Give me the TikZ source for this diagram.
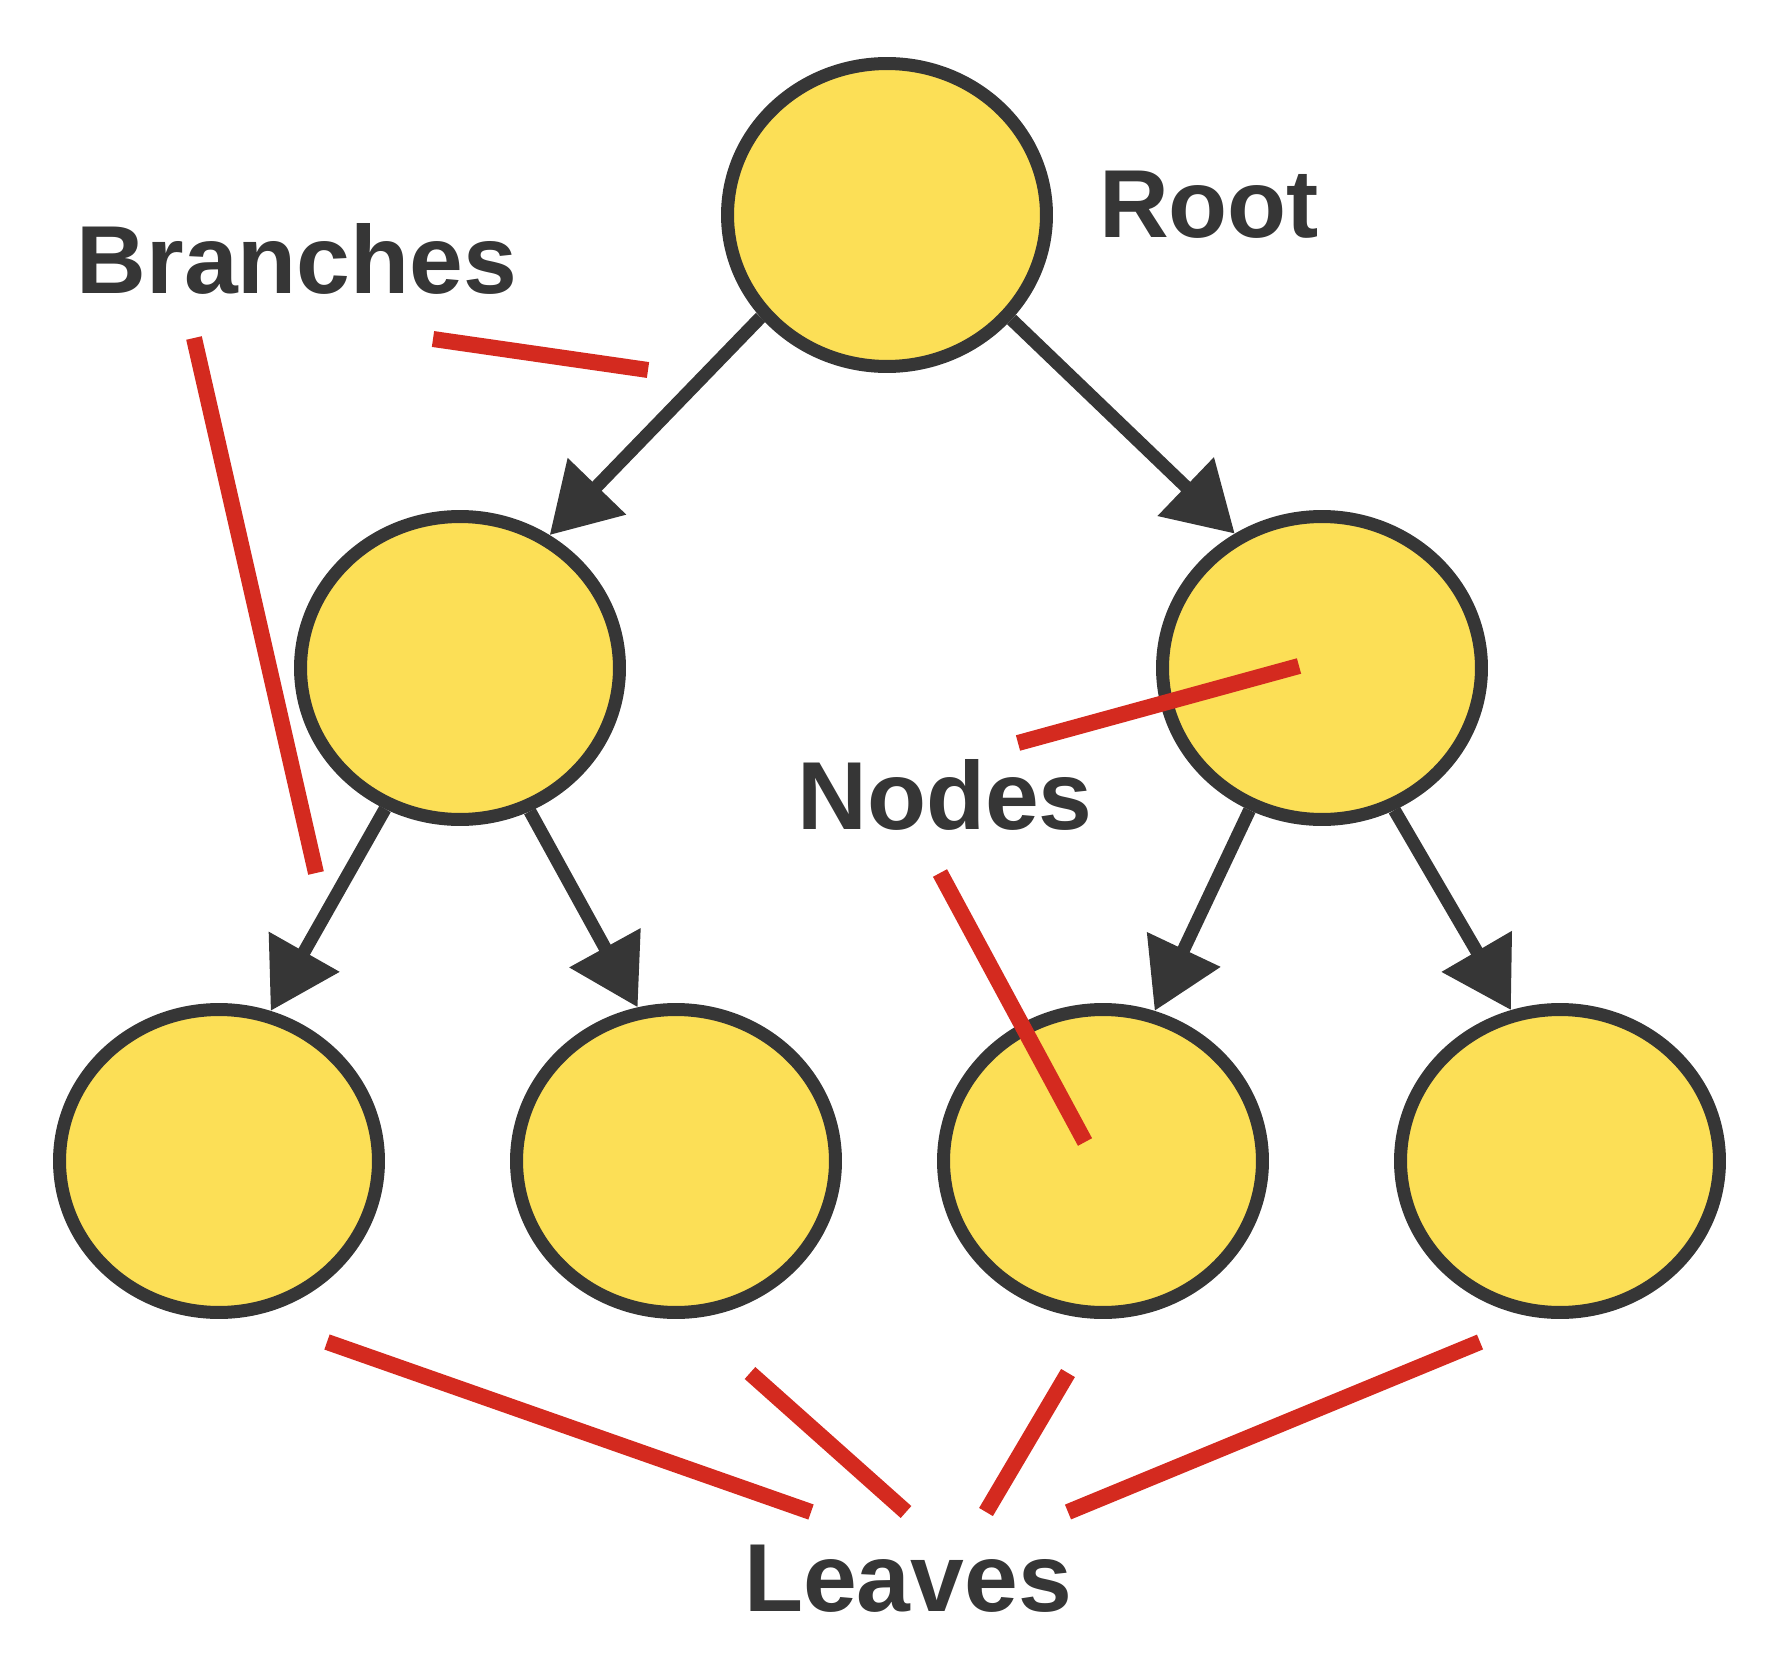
\documentclass[tikz,border=0pt]{standalone}
\usepackage{fontspec}
\setmainfont{Liberation Sans}
\usepackage{xcolor}
\usepackage{tikz}
\usetikzlibrary{arrows.meta,shapes.geometric,backgrounds}
\definecolor{ink}{HTML}{363636}
\definecolor{sun}{HTML}{FCDF56}
\definecolor{mark}{HTML}{D42A1F}

\begin{document}
\begin{tikzpicture}[
  x=0.02cm, y=-0.02cm,
  treenode/.style={ellipse, draw=ink, fill=sun, line width=0.26cm,
                   minimum width=6.38cm, minimum height=6.06cm, inner sep=0pt},
  tag/.style={text=ink, font=\fontsize{55}{62}\selectfont\bfseries,
              inner sep=0pt, anchor=base},
  arrow/.style={-{Triangle[length=1.36cm, width=1.56cm]}, line width=0.26cm, draw=ink},
  pointer/.style={draw=mark, line width=0.32cm}
]
\useasboundingbox (0,0) rectangle (1782,1676);

\node[treenode] (root) at (887,215) {};
\node[treenode] (left) at (460,668) {};
\node[treenode] (right) at (1322,668) {};
\node[treenode] (leafA) at (219,1161) {};
\node[treenode] (leafB) at (676,1161) {};
\node[treenode] (leafC) at (1103,1161) {};
\node[treenode] (leafD) at (1560,1161) {};

\node[tag] (rootlabel) at (1209,238) {Root};
\node[tag] (branchlabel) at (297,294) {Branches};
\node[tag] (nodelabel) at (945,829) {Nodes};
\node[tag] (leaflabel) at (908,1611) {Leaves};

\begin{scope}[on background layer]
\draw[arrow] (root.219.5) -- (left.56.5);
\draw[arrow] (root.320.3) -- (right.123);
\draw[arrow] (left.242.3) -- (leafA.71.3);
\draw[arrow] (left.296.9) -- (leafB.104);
\draw[arrow] (right.243) -- (leafC.71.7);
\draw[arrow] (right.297.7) -- (leafD.108.3);
\end{scope}

\coordinate (branchA1) at (433,339);
\coordinate (branchA2) at (648,370);
\coordinate (branchB1) at (194,338);
\coordinate (branchB2) at (316,873);
\coordinate (nodeA1) at (1018,743);
\coordinate (nodeA2) at (1299,666);
\coordinate (nodeB1) at (940,873);
\coordinate (nodeB2) at (1085,1142);
\coordinate (leafA1) at (327,1342);
\coordinate (leafA2) at (811,1512);
\coordinate (leafB1) at (750,1373);
\coordinate (leafB2) at (906,1512);
\coordinate (leafC1) at (1068,1373);
\coordinate (leafC2) at (986,1512);
\coordinate (leafD1) at (1480,1342);
\coordinate (leafD2) at (1068,1512);

\draw[pointer] (branchA1) -- (branchA2);
\draw[pointer] (branchB1) -- (branchB2);
\draw[pointer] (nodeA1) -- (nodeA2);
\draw[pointer] (nodeB1) -- (nodeB2);
\draw[pointer] (leafA1) -- (leafA2);
\draw[pointer] (leafB1) -- (leafB2);
\draw[pointer] (leafC1) -- (leafC2);
\draw[pointer] (leafD1) -- (leafD2);
\end{tikzpicture}
\end{document}
